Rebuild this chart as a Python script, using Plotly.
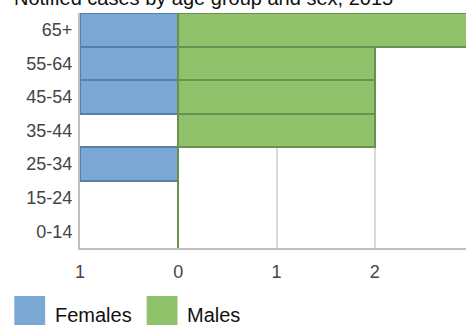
import plotly.graph_objects as go

# Data
age_groups = ["0-14", "15-24", "25-34", "35-44", "45-54", "55-64", "65+"]
females = [0, 0, 1, 0, 1, 1, 1]
males = [0, 0, 0, 2, 2, 2, 3]
tick_vals = [-1, 0, 1, 2, 3]
tick_text = ["1", "0", "1", "2", "3"]

_BLUE = "#7ba7d5"
_BLUE_EDGE = "#5a7ea6"
_GREEN = "#90c26c"
_GREEN_EDGE = "#6a9150"
_FONT = "Liberation Sans, Arial, sans-serif"

fig = go.Figure()
fig.add_trace(
    go.Bar(
        y=age_groups,
        x=[-v for v in females],
        orientation="h",
        name="Females",
        marker=dict(color=_BLUE, line=dict(color=_BLUE_EDGE, width=2)),
        showlegend=False,
    )
)
fig.add_trace(
    go.Bar(
        y=age_groups,
        x=males,
        orientation="h",
        name="Males",
        marker=dict(color=_GREEN, line=dict(color=_GREEN_EDGE, width=2)),
        showlegend=False,
    )
)

# plot area: x 80..475 px, y 13..248 px
PX0, PW, PY0, PH = 80, 395, 13, 235


def px_x(p):
    return (p - PX0) / PW


def px_y(p):
    return (PY0 + PH - p) / PH


shapes = []
annotations = [
    dict(
        text="Notified cases by age group and sex, 2015",
        xref="paper", yref="paper",
        x=px_x(12), y=px_y(11),
        xanchor="left", yanchor="bottom",
        showarrow=False,
        font=dict(size=20, color="#111111", family=_FONT),
    )
]
for label, colour, x0, tx in [("Females", _BLUE, 14, 53), ("Males", _GREEN, 147, 186)]:
    shapes.append(
        dict(
            type="rect", xref="paper", yref="paper",
            x0=px_x(x0), x1=px_x(x0 + 31), y0=px_y(296), y1=px_y(335),
            fillcolor=colour, line=dict(width=0),
        )
    )
    annotations.append(
        dict(
            text=label, xref="paper", yref="paper",
            x=px_x(tx), y=px_y(315),
            xanchor="left", yanchor="middle", showarrow=False,
            font=dict(size=20, color="#111111", family=_FONT),
        )
    )

fig.update_layout(
    width=490,
    height=325,
    margin=dict(l=80, r=15, t=13, b=77),
    paper_bgcolor="white",
    plot_bgcolor="white",
    barmode="relative",
    bargap=0,
    font=dict(family=_FONT, size=18, color="#444444"),
    xaxis=dict(
        range=[-1, 3],
        tickvals=tick_vals,
        ticktext=tick_text,
        showgrid=True,
        gridcolor="#d9d9d9",
        gridwidth=2,
        zeroline=False,
        showline=True,
        linecolor="#c0c0c0",
        linewidth=2,
        ticks="",
        ticklabelstandoff=6,
    ),
    yaxis=dict(
        categoryorder="array",
        categoryarray=age_groups,
        showgrid=False,
        zeroline=False,
        showline=True,
        linecolor="#c0c0c0",
        linewidth=2,
        ticks="",
        ticklabelstandoff=2,
    ),
    shapes=shapes,
    annotations=annotations,
)

fig.write_html(
    "out.html",
    config={"displayModeBar": False},
    post_script="document.body.style.margin='0';document.body.style.overflow='hidden';"
    "document.documentElement.style.overflow='hidden';",
)
